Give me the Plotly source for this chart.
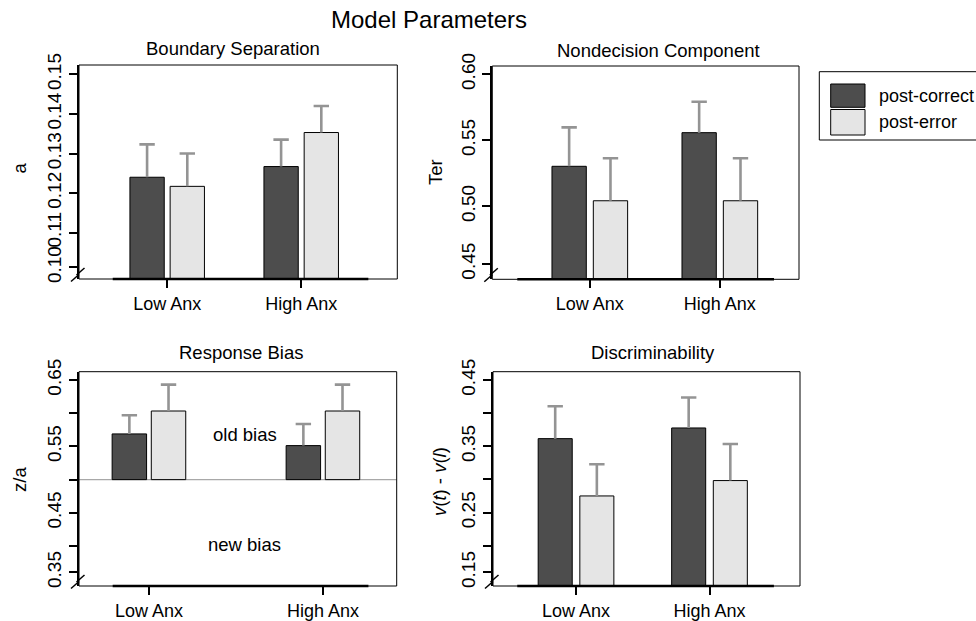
import plotly.graph_objects as go

# ---------------- data ----------------
categories = ["Low Anx", "High Anx"]
groups = ["post-correct", "post-error"]

# Boundary separation (a)
a_correct = [0.1240, 0.1267]
a_error = [0.1217, 0.1353]
a_correct_se = [0.0083, 0.0068]
a_error_se = [0.0083, 0.0067]

# Nondecision component (Ter)
ter_correct = [0.5303, 0.5558]
ter_error = [0.5042, 0.5042]
ter_correct_se = [0.0295, 0.0234]
ter_error_se = [0.0322, 0.0322]

# Response bias (z/a)
za_correct = [0.5688, 0.5512]
za_error = [0.6033, 0.6033]
za_correct_se = [0.0281, 0.0325]
za_error_se = [0.0397, 0.0397]
za_neutral = 0.5

# Discriminability (v(t) - v(l))
v_correct = [0.3616, 0.3777]
v_error = [0.2751, 0.2983]
v_correct_se = [0.0488, 0.0459]
v_error_se = [0.0479, 0.0552]

# tick labels (bottom tick sits at the axis break)
a_tick_labels = ["0.10", "0.11", "0.12", "0.13", "0.14", "0.15"]
a_tick_vals = [0.1012, 0.11, 0.12, 0.13, 0.14, 0.15]
ter_tick_labels = ["0.45", "0.50", "0.55", "0.60"]
ter_tick_vals = [0.4563, 0.50, 0.55, 0.60]
za_tick_labels = ["0.35", "", "0.45", "", "0.55", "", "0.65"]
za_tick_vals = [0.3603, 0.40, 0.45, 0.50, 0.55, 0.60, 0.65]
v_tick_labels = ["0.15", "", "0.25", "", "0.35", "", "0.45"]
v_tick_vals = [0.1598, 0.20, 0.25, 0.30, 0.35, 0.40, 0.45]

# ---------------- style ----------------
W, H = 976, 621
FONT = "Liberation Sans, Arial, Helvetica, sans-serif"
DARK = "#4d4d4d"
LIGHT = "#e5e5e5"
ERR = "#949494"


def px(x):
    return x / W


def py(y):
    return 1 - y / H


panels = [
    dict(title="Boundary Separation", ylab="a", c=a_correct, e=a_error,
         cse=a_correct_se, ese=a_error_se, tv=a_tick_vals, tt=a_tick_labels,
         dom_x=(79, 397.3), dom_y=(65, 279), xr=[-0.658, 1.717], yr=[0.09829, 0.15236],
         bw=0.256, off=0.150, axseg=(0.106, 0.909), base=None,
         tpos=(233, 48), lpos=(18.5, 168)),
    dict(title="Nondecision Component", ylab="Ter", c=ter_correct, e=ter_error,
         cse=ter_correct_se, ese=ter_error_se, tv=ter_tick_vals, tt=ter_tick_labels,
         dom_x=(492.3, 799), dom_y=(66, 279.3), xr=[-0.750, 1.609], yr=[0.4447, 0.6063],
         bw=0.264, off=0.159, axseg=(0.0815, 0.9185), base=None,
         tpos=(658.5, 50.5), lpos=(435, 172)),
    dict(title="Response Bias", ylab="z/a", c=za_correct, e=za_error,
         cse=za_correct_se, ese=za_error_se, tv=za_tick_vals, tt=za_tick_labels,
         dom_x=(79, 396.7), dom_y=(371.7, 586), xr=[-0.402, 1.424], yr=[0.3398, 0.6625],
         bw=0.198, off=0.1125, axseg=(0.106, 0.911), base=za_neutral,
         tpos=(241, 352), lpos=(19, 480)),
    dict(title="Discriminability", ylab="<i>v</i>(<i>t</i>) - <i>v</i>(<i>l</i>)",
         c=v_correct, e=v_error, cse=v_correct_se, ese=v_error_se,
         tv=v_tick_vals, tt=v_tick_labels,
         dom_x=(493, 800), dom_y=(371.7, 586), xr=[-0.622, 1.678], yr=[0.1392, 0.4626],
         bw=0.255, off=0.156, axseg=(0.079, 0.915), base=None,
         tpos=(653, 352), lpos=(439, 482)),
]

fig = go.Figure()
shapes = []
annotations = []
xpos = list(range(len(categories)))

for i, p in enumerate(panels, start=1):
    xa = "x" if i == 1 else f"x{i}"
    ya = "y" if i == 1 else f"y{i}"
    for vals, se, col, sign in ((p["c"], p["cse"], DARK, -1), (p["e"], p["ese"], LIGHT, 1)):
        if p["base"] is not None:
            yv = [v - p["base"] for v in vals]
            base = p["base"]
        else:
            yv = vals
            base = None
        fig.add_trace(go.Bar(
            x=xpos, y=yv, base=base,
            width=p["bw"], offset=sign * p["off"] - p["bw"] / 2,
            marker=dict(color=col, line=dict(color="black", width=1)),
            showlegend=False, xaxis=xa, yaxis=ya, hoverinfo="skip",
        ))
        # upper error bars: stem + cap
        bx = [k + sign * p["off"] for k in xpos]
        sx, sy = [], []
        for xk, v, s in zip(bx, vals, se):
            sx += [xk, xk, None]
            sy += [v, v + s, None]
        fig.add_trace(go.Scatter(
            x=sx, y=sy, mode="lines", line=dict(color=ERR, width=2.6),
            showlegend=False, xaxis=xa, yaxis=ya, hoverinfo="skip",
        ))
        fig.add_trace(go.Scatter(
            x=bx, y=[v + s for v, s in zip(vals, se)], mode="markers",
            marker=dict(symbol="line-ew", size=11, line=dict(color=ERR, width=2.6)),
            showlegend=False, xaxis=xa, yaxis=ya, hoverinfo="skip",
        ))
    xkey = "xaxis" if i == 1 else f"xaxis{i}"
    ykey = "yaxis" if i == 1 else f"yaxis{i}"
    fig.update_layout({
        xkey: dict(domain=[px(p["dom_x"][0]), px(p["dom_x"][1])], range=p["xr"],
                   anchor=ya, tickvals=xpos, ticktext=categories, automargin=False,
                   ticks="outside", ticklen=8, tickwidth=2, tickcolor="black",
                   showline=False, showgrid=False, zeroline=False,
                   tickfont=dict(size=18, color="black", family=FONT),
                   ticklabelstandoff=0, fixedrange=True),
        ykey: dict(domain=[py(p["dom_y"][1]), py(p["dom_y"][0])], range=p["yr"],
                   anchor=xa, tickvals=p["tv"], ticktext=p["tt"], automargin=False,
                   ticks="outside", ticklen=8, tickwidth=2, tickcolor="black",
                   showline=True, linewidth=2, linecolor="black",
                   showgrid=False, zeroline=False, tickangle=-90,
                   tickfont=dict(size=19, color="black", family=FONT),
                   ticklabelstandoff=0, fixedrange=True),
    })
    # frame
    shapes.append(dict(type="rect", xref=f"{xa} domain", yref=f"{ya} domain",
                       x0=0, x1=1, y0=0, y1=1, line=dict(color="black", width=1)))
    # thick x-axis segment
    shapes.append(dict(type="line", xref=f"{xa} domain", yref=f"{ya} domain",
                       x0=p["axseg"][0], x1=p["axseg"][1], y0=0, y1=0,
                       line=dict(color="black", width=2.5)))
    # axis-break marks
    cx, cy = p["dom_x"][0], p["dom_y"][1]
    for dx, dy in ((1.5, -7.5), (-4, -1)):
        shapes.append(dict(type="line", xref="paper", yref="paper",
                           x0=px(cx + dx - 4), y0=py(cy + dy + 3.5),
                           x1=px(cx + dx + 4), y1=py(cy + dy - 3.5),
                           line=dict(color="black", width=1.5)))
    # panel title
    annotations.append(dict(text=p["title"], x=px(p["tpos"][0]), y=py(p["tpos"][1]),
                            xref="paper", yref="paper", showarrow=False,
                            xanchor="center", yanchor="middle",
                            font=dict(size=18.5, color="black", family=FONT)))
    # y-axis label
    annotations.append(dict(text=p["ylab"], x=px(p["lpos"][0]), y=py(p["lpos"][1]),
                            xref="paper", yref="paper", showarrow=False, textangle=-90,
                            xanchor="center", yanchor="middle",
                            font=dict(size=18.5, color="black", family=FONT)))

# neutral bias line and region labels in the response-bias panel
shapes.append(dict(type="line", xref="x3 domain", yref="y3", x0=0, x1=1,
                   y0=za_neutral, y1=za_neutral, layer="below",
                   line=dict(color="#a8a8a8", width=1.2)))
annotations.append(dict(text="old bias", x=0.55, y=0.5685, xref="x3", yref="y3",
                        showarrow=False, font=dict(size=18.5, color="black", family=FONT)))
annotations.append(dict(text="new bias", x=0.55, y=0.402, xref="x3", yref="y3",
                        showarrow=False, font=dict(size=18.5, color="black", family=FONT)))

# overall title
annotations.append(dict(text="Model Parameters", x=px(429), y=py(19.5), xref="paper",
                        yref="paper", showarrow=False, xanchor="center", yanchor="middle",
                        font=dict(size=24, color="black", family=FONT)))

# legend (drawn manually)
shapes.append(dict(type="rect", xref="paper", yref="paper", x0=px(819.3), x1=px(990),
                   y0=py(140), y1=py(71.7), line=dict(color="black", width=1)))
for (y0, y1), col, name in (((84, 107.3), DARK, groups[0]), ((109.5, 135), LIGHT, groups[1])):
    shapes.append(dict(type="rect", xref="paper", yref="paper", x0=px(830.7), x1=px(865),
                       y0=py(y1), y1=py(y0), fillcolor=col,
                       line=dict(color="black", width=1)))
    annotations.append(dict(text=name, x=px(876.5), y=py((y0 + y1) / 2), xref="paper",
                            yref="paper", showarrow=False, xanchor="left", yanchor="middle",
                            font=dict(size=18, color="black", family=FONT)))

fig.update_layout(
    width=W, height=H, margin=dict(l=0, r=0, t=0, b=0, autoexpand=False),
    paper_bgcolor="white", plot_bgcolor="white",
    barmode="overlay", shapes=shapes, annotations=annotations,
    font=dict(family=FONT, color="black"),
)

fig.write_html(
    "out.html",
    config={"displayModeBar": False, "staticPlot": True},
    post_script="document.body.style.margin='0';document.body.style.padding='0';"
                "document.body.style.overflow='hidden';"
                "var gd=document.getElementById('{plot_id}');"
                "gd.style.position='absolute';gd.style.top='0px';gd.style.left='0px';",
)
